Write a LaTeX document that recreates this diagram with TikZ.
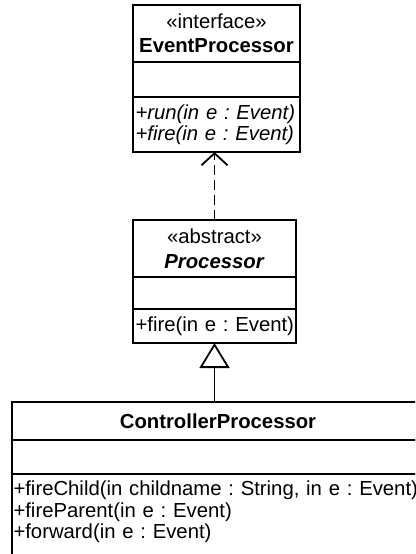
\documentclass[tikz,border=0pt]{standalone}
\usepackage{fontspec}
\setmainfont{Liberation Sans}
\usepackage{tikz}
\usetikzlibrary{arrows.meta}
\usetikzlibrary{positioning}

\newcommand{\umlsize}{\fontsize{20.3}{21}\selectfont}
\frenchspacing

\begin{document}
\begin{tikzpicture}[
    x=1pt, y=-1pt, line width=1.8pt,
    every node/.style={rectangle, draw, outer sep=0pt, inner xsep=2.5pt, inner ysep=0pt, font=\umlsize},
    class head/.style={align=center},
    class part/.style={align=left, text width=#1},
  ]

  \useasboundingbox (0,0) rectangle (415,554);
  \clip (0,0) rectangle (415,554);

  % EventProcessor (interface)
  \node[class head, minimum width=167pt, minimum height=57pt] (ep) at (216.5, 33.5)
       {«interface»\\[3pt]\textbf{EventProcessor}};
  \node[minimum width=167pt, minimum height=35pt, below=0pt of ep] (epattr) {};
  \node[class part=162pt, minimum height=55pt, below=0pt of epattr] (epops)
       {\mbox{\textit{+run(in e : Event)}}\\\mbox{\textit{+fire(in e : Event)}}};

  % Processor (abstract)
  \node[class head, minimum width=163pt, minimum height=57pt] (proc) at (214.5, 248.5)
       {«abstract»\\[4pt]\textbf{\textit{Processor}}};
  \node[minimum width=163pt, minimum height=32pt, below=0pt of proc] (procattr) {};
  \node[class part=158pt, minimum height=34pt, below=0pt of procattr] (procops)
       {\mbox{+fire(in e : Event)}};

  % ControllerProcessor
  \node[class head, minimum width=412pt, minimum height=38pt] (ctl) at (218, 421)
       {\textbf{ControllerProcessor}};
  \node[minimum width=412pt, minimum height=34pt, below=0pt of ctl] (ctlattr) {};
  \node[class part=409pt, inner xsep=1.5pt, inner ysep=7pt, below=0pt of ctlattr] (ctlops)
       {\mbox{+fireChild(in childname : String, in e : Event)}\\[0.5pt]
        \mbox{+fireParent(in e : Event)}\\[0.5pt]
        \mbox{+forward(in e : Event)}\rule[-20pt]{0pt}{20pt}};

  % Edges
  \draw[dash pattern=on 10pt off 5pt, -{Straight Barb[length=12pt, width=26pt]}]
       (proc.north) -- (proc.north |- epops.south);
  \draw[-{Triangle[open, length=25pt, width=30pt]}]
       (procops.south |- ctl.north) -- (procops.south);

\end{tikzpicture}
\end{document}
